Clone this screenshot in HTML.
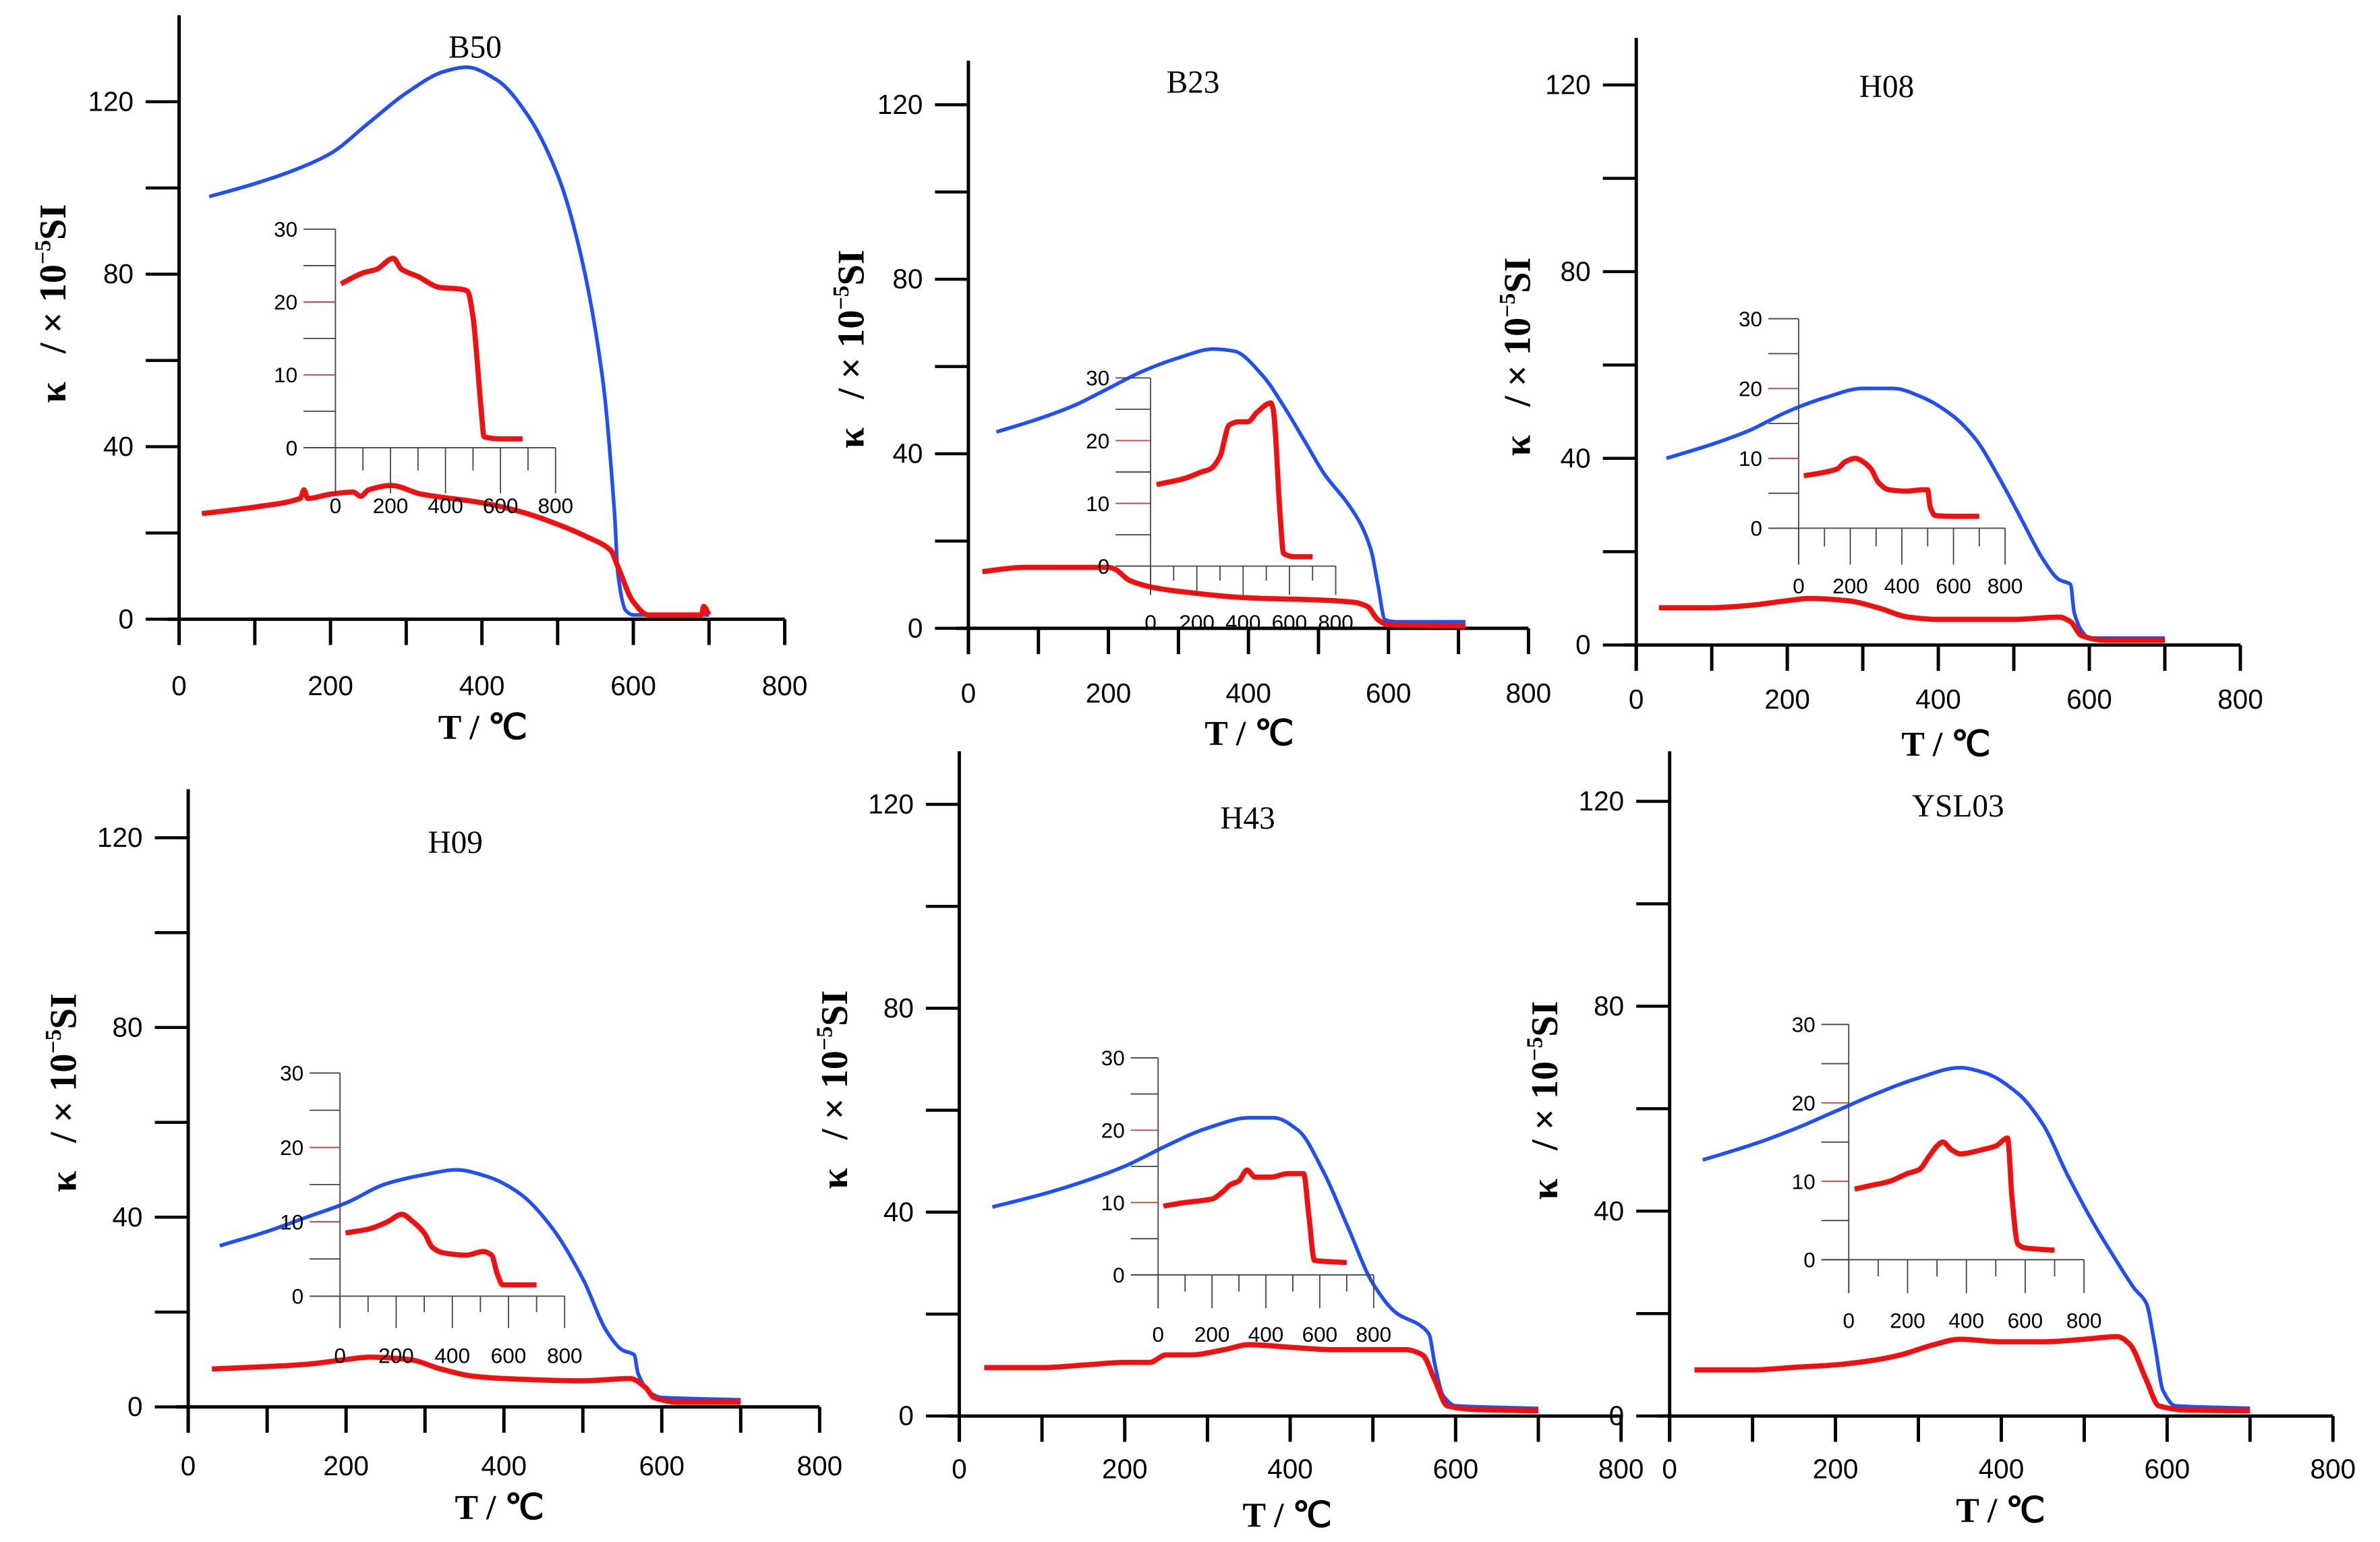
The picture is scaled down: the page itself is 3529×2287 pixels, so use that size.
<!DOCTYPE html>
<html><head><meta charset="utf-8"><style>
html,body{margin:0;padding:0;background:#fff;}
svg{display:block;}
</style></head><body>
<svg id="fig" xmlns="http://www.w3.org/2000/svg" width="3529" height="2287" viewBox="0 0 1568 1016" preserveAspectRatio="none"></svg>
<script>
// ---- data (T in °C, kappa in 1e-5 SI) ----
const sampleNames = ["B50","B23","H08","H09","H43","YSL03"];
const mainTicks = [0,200,400,600,800];
const mainYTicks = [0,40,80,120];
const insetTicks = [0,200,400,600,800];
const insetYTicks = [0,10,20,30];

const b50HeatT = [40,100,150,200,250,300,350,380,420,460,500,530,560,575,580,590,600,700];
const b50HeatK = [98,101,104,108,115,122,127,128,125,117,103,85,55,25,10,2,1,1];
const b50CoolT = [30,100,160,165,170,200,230,240,250,280,320,400,450,500,540,570,580,600,620,690,693,700];
const b50CoolK = [24.5,26,28,30,28,29,29.5,28.5,30,31,29,27,25,22,19,16,12,4,1,1,3,1];
const b50InsetT = [20,100,150,210,240,300,380,450,480,500,530,540,600,680];
const b50InsetK = [22.5,24,24.5,26,24.5,23.5,22,21.8,21.5,18,5,1.5,1.2,1.2];

const b23HeatT = [40,100,150,200,250,300,350,380,420,450,480,510,540,560,575,585,595,610,710];
const b23HeatK = [45,48,51,55,59,62,64,63.5,58,51,43,35,29,24,18,10,2,1.5,1.5];
const b23CoolT = [20,80,150,200,210,230,260,300,400,500,550,570,585,600,710];
const b23CoolK = [13,14,14,14,13.5,11,9.5,8.5,7,6.5,6,5,2,0.8,0.5];
const b23InsetT = [26,150,220,260,300,340,380,420,460,520,530,560,575,620,700];
const b23InsetK = [13,14,15,15.5,17.5,22.5,23,23,24.5,26,25,8,2,1.5,1.5];

const h08HeatT = [40,100,150,200,250,300,340,380,420,450,480,510,540,560,575,580,590,600,700];
const h08HeatK = [40,43,46,50,53,55,55,53,49,44,36,27,18,14,13,7,3,1.5,1.5];
const h08CoolT = [30,100,150,200,230,280,320,360,400,500,560,575,590,620,700];
const h08CoolK = [8,8,8.5,9.5,10,9.5,8,6,5.5,5.5,6,5,2,1,1];
const h08InsetT = [20,100,150,180,220,250,280,310,350,420,480,500,510,530,600,700];
const h08InsetK = [7.5,8,8.5,9.5,10,9.5,8.5,6.5,5.5,5.3,5.5,5.5,3,1.8,1.7,1.7];

const h09HeatT = [40,100,150,200,250,300,340,380,420,460,500,530,550,565,570,585,600,700];
const h09HeatK = [34,37,40,43,47,49,50,48.5,45,38,27,16,12,11,7,3,2,1.5];
const h09CoolT = [30,100,150,200,230,280,320,360,400,500,560,580,590,620,700];
const h09CoolK = [8,8.5,9,10,10.5,10,8,6.5,6,5.5,6,4,2,1,1];
const h09InsetT = [20,100,170,220,260,300,330,370,450,510,540,560,580,700];
const h09InsetK = [8.5,9,10,11,10,8.5,6.5,5.8,5.5,6,5.5,3,1.5,1.5];

const h43HeatT = [40,100,150,200,250,300,350,380,410,440,470,500,530,555,568,575,585,600,700];
const h43HeatK = [41,43.5,46,49,53,56.5,58.5,58.5,56,48,37,26,20,18,16,10,4,2,1.5];
const h43CoolT = [30,100,150,200,230,250,280,320,350,400,450,500,540,560,575,590,620,700];
const h43CoolK = [9.5,9.5,10,10.5,10.5,12,12,13,14,13.5,13,13,13,12,7,2,1.3,1];
const h43InsetT = [20,100,200,240,270,300,330,360,420,480,540,560,580,700];
const h43InsetK = [9.5,10,10.5,11.5,12.5,13,14.5,13.5,13.5,14,14,8,2,1.7];

const yslHeatT = [40,100,150,200,250,300,350,380,420,450,480,510,540,560,575,585,595,610,700];
const yslHeatK = [50,53,56,59.5,63,66,68,67,63,57,47,38,30,25,22,14,5,2,1.5];
const yslCoolT = [30,100,150,200,250,280,320,350,400,450,500,540,555,575,590,620,700];
const yslCoolK = [9,9,9.5,10,11,12,14,15,14.5,14.5,15,15.5,14,7,2,1.2,1];
const yslInsetT = [20,80,140,200,240,270,300,320,350,380,450,500,540,555,575,600,700];
const yslInsetK = [9,9.5,10,11,11.5,13,14.5,15,14,13.5,14,14.5,15.5,8,2,1.5,1.2];

const heatT=[b50HeatT,b23HeatT,h08HeatT,h09HeatT,h43HeatT,yslHeatT];
const heatK=[b50HeatK,b23HeatK,h08HeatK,h09HeatK,h43HeatK,yslHeatK];
const coolT=[b50CoolT,b23CoolT,h08CoolT,h09CoolT,h43CoolT,yslCoolT];
const coolK=[b50CoolK,b23CoolK,h08CoolK,h09CoolK,h43CoolK,yslCoolK];
const insT=[b50InsetT,b23InsetT,h08InsetT,h09InsetT,h43InsetT,yslInsetT];
const insK=[b50InsetK,b23InsetK,h08InsetK,h09InsetK,h43InsetK,yslInsetK];

// ---- layout (pixel geometry, viewBox units) ----
const layouts = [
 {ax:118,y0:408,y120:67,x800:517,top:10,xl:110,lab:451,tx:318,ty:479,ttx:313,tty:31,ylx:35,yly:200,
  ix:221,iy0:295,iy30:151,ix800:366,ixl:200,itick:325,ilab:333},
 {ax:638,y0:414,y120:69,x800:1007,top:40,xl:630,lab:456,tx:823,ty:483,ttx:786,tty:54,ylx:561,yly:230,
  ix:758,iy0:373,iy30:249,ix800:880,ixl:735,itick:392,ilab:410},
 {ax:1078,y0:425,y120:56,x800:1476,top:25,xl:1070,lab:460,tx:1282,ty:490,ttx:1243,tty:57,ylx:1000,yly:235,
  ix:1185,iy0:348,iy30:210,ix800:1321,ixl:1165,itick:372,ilab:386},
 {ax:124,y0:927,y120:552,x800:540,top:520,xl:116,lab:965,tx:329,ty:993,ttx:300,tty:555,ylx:42,yly:720,
  ix:224,iy0:854,iy30:707,ix800:372,ixl:204,itick:875,ilab:893},
 {ax:632,y0:933,y120:530,x800:1068,top:495,xl:624,lab:967,tx:848,ty:998,ttx:822,tty:539,ylx:550,yly:718,
  ix:763,iy0:840,iy30:697,ix800:905,ixl:745,itick:862,ilab:879},
 {ax:1100,y0:933,y120:528,x800:1537,top:495,xl:1092,lab:967,tx:1318,ty:995,ttx:1290,tty:531,ylx:1018,yly:725,
  ix:1218,iy0:830,iy30:675,ix800:1373,ixl:1200,itick:852,ilab:870}
];

const NS="http://www.w3.org/2000/svg";
const svg=document.getElementById('fig');
function mk(tag,attrs,parent){const e=document.createElementNS(NS,tag);for(const k in attrs)e.setAttribute(k,attrs[k]);(parent||svg).appendChild(e);return e;}
function line(p,x1,y1,x2,y2,c,w){return mk('line',{x1:x1,y1:y1,x2:x2,y2:y2,stroke:c,'stroke-width':w},p);}
function txt(p,x,y,s,size,fam,anchor,weight){const t=mk('text',{x:x,y:y,'font-size':size,'font-family':fam,'text-anchor':anchor||'middle','font-weight':weight||'normal',fill:'#000'},p);t.textContent=s;return t;}
const SANS='"Liberation Sans", sans-serif', SERIF='"Liberation Serif", serif';

// monotone cubic path through screen points
function smoothPath(P){
  const n=P.length; if(n<2) return '';
  const dx=[],m=[],t=new Array(n).fill(0);
  for(let i=0;i<n-1;i++){dx[i]=P[i+1][0]-P[i][0]; m[i]=dx[i]===0?0:(P[i+1][1]-P[i][1])/dx[i];}
  t[0]=m[0]; t[n-1]=m[n-2];
  for(let i=1;i<n-1;i++){ if(m[i-1]*m[i]<=0) t[i]=0; else t[i]=2/(1/m[i-1]+1/m[i]); }
  let d='M'+P[0][0].toFixed(1)+','+P[0][1].toFixed(1);
  for(let i=0;i<n-1;i++){
    const h=dx[i]/3;
    d+=' C'+(P[i][0]+h).toFixed(1)+','+(P[i][1]+t[i]*h).toFixed(1)+' '+(P[i+1][0]-h).toFixed(1)+','+(P[i+1][1]-t[i+1]*h).toFixed(1)+' '+P[i+1][0].toFixed(1)+','+P[i+1][1].toFixed(1);
  }
  return d;
}

layouts.forEach((L,i)=>{
  const g=mk('g',{});
  
  
  const xs=t=>L.ax+(L.x800-L.ax)*t/800;
  const ys=k=>L.y0-(L.y0-L.y120)*k/120;
  const ixs=t=>L.ix+(L.ix800-L.ix)*t/800;
  const iys=k=>L.iy0-(L.iy0-L.iy30)*k/30;
  const ya=line(g,L.ax,L.top,L.ax,L.y0+17,'#000',2.2);
  
  
  const xa=line(g,L.xl,L.y0,L.x800,L.y0,'#000',2.2);
  
  
  for(let k=0;k<=120;k+=20){line(g,L.ax-22,ys(k),L.ax,ys(k),'#000',2);}
  mainYTicks.forEach(k=>{const t=txt(g,L.ax-30,ys(k)+6,String(k),18,SANS,'end');
    
    });
  for(let t=0;t<=800;t+=100){line(g,xs(t),L.y0,xs(t),L.y0+17,'#000',2.2);}
  mainTicks.forEach(t=>{const e=txt(g,xs(t),L.lab+7,String(t),18,SANS);
    
    });
  const xt=txt(g,L.tx,L.ty+8,'T / \u2103',23,SERIF,'middle','bold');
  
  
  const tt=txt(g,L.ttx,L.tty+7,sampleNames[i],21,SERIF);
  
  
  const yl=mk('text',{x:0,y:0,'font-size':25,'font-family':SERIF,'font-weight':'bold','text-anchor':'middle',fill:'#000',transform:`translate(${L.ylx+8},${L.yly}) rotate(-90)`},g);
  
  
  yl.innerHTML='\u03BA &#160;&#160;/ \u00D7 10<tspan dy="-10" font-size="15">\u2212</tspan><tspan font-size="15">5</tspan><tspan dy="10">SI</tspan>';
  const P=(T,K,fx,fy)=>T.map((t,j)=>[fx(t),fy(K[j])]);
  const hb=mk('path',{d:smoothPath(P(heatT[i],heatK[i],xs,ys)),fill:'none',stroke:'#1f4ff5','stroke-width':2.4,'stroke-linejoin':'round'},g);
  
  
  const cr=mk('path',{d:smoothPath(P(coolT[i],coolK[i],xs,ys)),fill:'none',stroke:'#f01010','stroke-width':3.4,'stroke-linejoin':'round'},g);
  
  
  const ig=mk('g',{},g);
  
  
  line(ig,L.ix,L.iy30,L.ix,L.itick,'#444',0.8);
  line(ig,L.ixl,L.iy0,L.ix800,L.iy0,'#444',0.8);
  for(let k=0;k<=30;k+=5){line(ig,L.ixl,iys(k),L.ix,iys(k),k%10===0&&k>0&&k<30?'#d33':'#444',0.8);}
  insetYTicks.forEach(k=>{const e=txt(ig,L.ixl-4,iys(k)+5,String(k),14,SANS,'end');
    
    });
  for(let t=0;t<=800;t+=100){line(ig,ixs(t),L.iy0,ixs(t),t%200===0?L.itick:L.iy0+(L.itick-L.iy0)*0.5,'#444',0.8);}
  insetTicks.forEach(t=>{const e=txt(ig,ixs(t),L.ilab+5,String(t),14,SANS);
    
    });
  const ir=mk('path',{d:smoothPath(P(insT[i],insK[i],ixs,iys)),fill:'none',stroke:'#f01010','stroke-width':3.4,'stroke-linejoin':'round'},ig);
  
  
});
</script>
</body></html>
